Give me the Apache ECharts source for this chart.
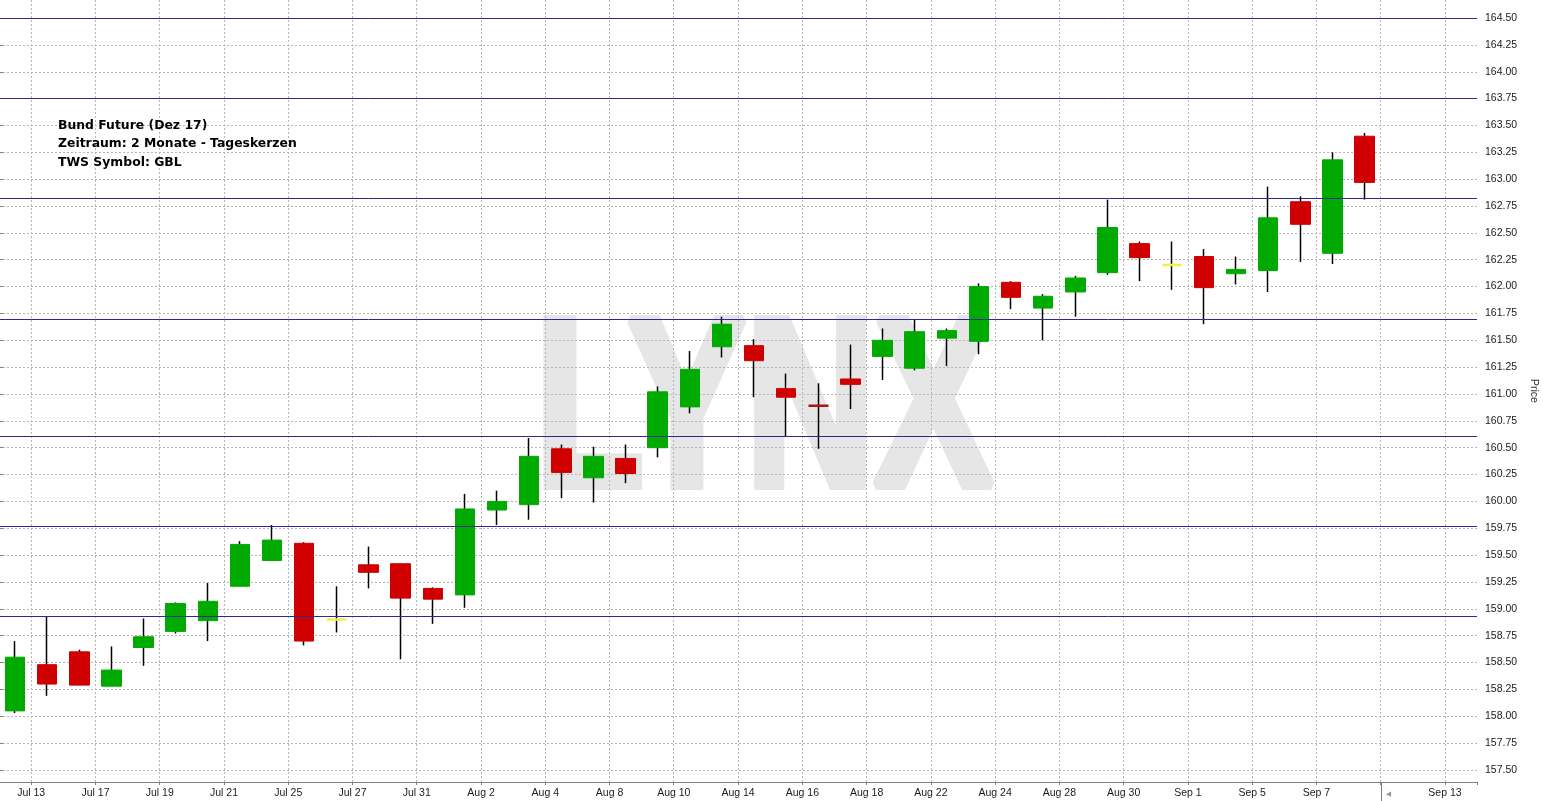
<!DOCTYPE html>
<html>
<head>
<meta charset="utf-8">
<script src="https://cdn.jsdelivr.net/npm/echarts@6/dist/echarts.min.js"></script>
<style>
  html, body { margin: 0; padding: 0; background: #ffffff; }
  #chart { width: 1543px; height: 801px; }
</style>
</head>
<body>
<div id="chart"></div>
<script>
// ---- data ----
const dates = ['Jul 12','Jul 13','Jul 14','Jul 17','Jul 18','Jul 19','Jul 20','Jul 21','Jul 24','Jul 25',
  'Jul 26','Jul 27','Jul 28','Jul 31','Aug 1','Aug 2','Aug 3','Aug 4','Aug 7','Aug 8',
  'Aug 9','Aug 10','Aug 11','Aug 14','Aug 15','Aug 16','Aug 17','Aug 18','Aug 21','Aug 22',
  'Aug 23','Aug 24','Aug 25','Aug 28','Aug 29','Aug 30','Aug 31','Sep 1','Sep 4','Sep 5',
  'Sep 6','Sep 7','Sep 8','Sep 11','Sep 12','Sep 13'];
const openP  = [158.05,158.48,158.60,158.28,158.64,158.79,158.89,159.21,159.45,159.61,
  158.90,159.41,159.42,159.19,159.13,159.92,159.97,160.49,160.22,160.40,
  160.50,160.88,161.44,161.45,161.05,160.89,161.14,161.35,161.24,161.52,
  161.49,162.04,161.80,161.95,162.13,162.40,162.20,162.28,162.12,162.15,
  162.79,162.31,163.40];
const closeP = [158.55,158.30,158.29,158.43,158.74,159.05,159.07,159.60,159.64,158.70,
  158.90,159.34,159.10,159.09,159.93,160.00,160.42,160.27,160.42,160.26,
  161.02,161.23,161.65,161.31,160.97,160.89,161.09,161.50,161.58,161.59,
  162.00,161.90,161.91,162.08,162.55,162.27,162.20,161.99,162.16,162.64,
  162.58,163.18,162.97];
const lowP   = [158.03,158.19,158.29,158.28,158.47,158.77,158.70,159.21,159.45,158.66,
  158.78,159.19,158.53,158.86,159.01,159.78,159.83,160.03,159.99,160.17,
  160.41,160.82,161.34,160.97,160.60,160.49,160.86,161.13,161.22,161.26,
  161.37,161.79,161.50,161.72,162.11,162.05,161.97,161.65,162.02,161.95,
  162.23,162.21,162.81];
const highP  = [158.70,158.93,158.62,158.65,158.91,159.06,159.24,159.63,159.78,159.62,
  159.21,159.58,159.42,159.20,160.07,160.10,160.59,160.53,160.51,160.53,
  161.07,161.40,161.72,161.51,161.19,161.10,161.46,161.61,161.69,161.61,
  162.03,162.05,161.93,162.10,162.81,162.42,162.42,162.35,162.28,162.93,
  162.84,163.25,163.43];
const levels = [164.50, 163.75, 162.82, 161.70, 160.61, 159.77, 158.93];
const yTicks = [157.50,157.75,158.00,158.25,158.50,158.75,159.00,159.25,159.50,159.75,
  160.00,160.25,160.50,160.75,161.00,161.25,161.50,161.75,162.00,162.25,
  162.50,162.75,163.00,163.25,163.50,163.75,164.00,164.25,164.50];
const xGridDates = ['Jul 13','Jul 17','Jul 19','Jul 21','Jul 25','Jul 27','Jul 31','Aug 2','Aug 4','Aug 8',
  'Aug 10','Aug 14','Aug 16','Aug 18','Aug 22','Aug 24','Aug 28','Aug 30','Sep 1','Sep 5',
  'Sep 7','Sep 11','Sep 13'];
const yMin = 157.388, yMax = 164.668;
const todayMarker = 'Sep 11';
const titleLines = ['Bund Future (Dez 17)', 'Zeitraum: 2 Monate - Tageskerzen', 'TWS Symbol: GBL'];

// ---- styles ----
const UP = '#00aa00', DOWN = '#d00000';
const dojiColors = { 'Jul 26': '#f4f04a', 'Aug 16': '#a81414', 'Aug 31': '#f4f04a' };
const GRID_LINE = { color: '#b6b6b6', type: [2, 2], width: 1 };
const AXIS_COLOR = '#808080';
const FONT = '"Liberation Sans", Arial, sans-serif';

const wickData = openP.map((o, i) => [o, closeP[i], lowP[i], highP[i]]);
const bodyData = openP.map((o, i) => {
  const c = closeP[i];
  const item = { value: [o, c, Math.min(o, c), Math.max(o, c)] };
  const dc = dojiColors[dates[i]];
  if (dc) {
    item.itemStyle = { color: dc, color0: dc, borderColor: dc, borderColor0: dc, borderColorDoji: dc, borderWidth: 2.5 };
  }
  return item;
});
const xGridIdx = xGridDates.map(d => dates.indexOf(d));

const chart = echarts.init(document.getElementById('chart'), null, { renderer: 'canvas' });
const option = {
  animation: false,
  backgroundColor: '#ffffff',
  title: {
    text: titleLines.join('\n'),
    left: 58, top: 116, padding: 0,
    textStyle: { fontFamily: '"DejaVu Sans", sans-serif', fontWeight: 'bold', fontSize: 12.4, lineHeight: 18.7, color: '#000' }
  },
  grid: { left: -1, right: 66, top: 0, bottom: 19, containLabel: false, outerBoundsMode: 'none' },
  xAxis: [
    {
      type: 'category', data: dates, boundaryGap: true,
      axisLine: { show: true, lineStyle: { color: AXIS_COLOR, width: 1 } },
      axisTick: { show: true, length: 3, customValues: xGridIdx, lineStyle: { color: AXIS_COLOR } },
      axisLabel: {
        interval: (i, v) => i % 2 === 1 && v !== todayMarker,
        padding: [0, 32, 0, 0], color: '#1a1a1a', fontSize: 10.5, fontFamily: FONT, margin: 6
      },
      splitLine: { show: false }
    },
    {
      // day-boundary coordinate axis (0 = left edge of the first day), only used for the vertical grid
      type: 'value', min: 0, max: dates.length, position: 'top',
      axisLine: { show: false },
      axisTick: { show: true, length: 0, customValues: xGridIdx, lineStyle: { color: 'rgba(0,0,0,0)' } },
      axisLabel: { show: true, customValues: xGridIdx, formatter: () => '' },
      splitLine: { show: true, lineStyle: GRID_LINE }
    }
  ],
  yAxis: {
    type: 'value', position: 'right', min: yMin, max: yMax,
    axisLine: { show: true, lineStyle: { color: AXIS_COLOR, width: 1 } },
    axisTick: { show: true, length: 4, customValues: yTicks, lineStyle: { color: AXIS_COLOR } },
    axisLabel: { customValues: yTicks, formatter: (v) => v.toFixed(2), color: '#1a1a1a', fontSize: 10.5, fontFamily: FONT, margin: 8 },
    splitLine: { show: true, lineStyle: GRID_LINE },
    name: 'Price', nameLocation: 'middle', nameRotate: -90, nameGap: 48,
    nameTextStyle: { color: '#333', fontSize: 10.5, fontFamily: FONT }
  },
  graphic: [{
    id: 'wm', type: 'text', x: 764, y: 419, scaleX: 0.74, z: -10, silent: true,
    style: { text: 'LYNX', font: 'bold 240px "Liberation Sans", Arial, sans-serif', fill: '#e6e6e6',
      stroke: '#e6e6e6', lineWidth: 10, textAlign: 'center', textVerticalAlign: 'middle' }
  }],
  series: [
    {
      type: 'candlestick', name: 'range', data: wickData, barWidth: 1, silent: true, z: 2,
      itemStyle: { color: '#000', color0: '#000', borderColor: '#000', borderColor0: '#000', borderColorDoji: '#000', borderWidth: 1.5 }
    },
    {
      type: 'candlestick', name: 'GBL', data: bodyData, barWidth: 20, silent: true, z: 3,
      itemStyle: { color: UP, color0: DOWN, borderColor: UP, borderColor0: DOWN, borderWidth: 1 },
      markLine: {
        silent: true, symbol: ['none', 'none'], label: { show: false },
        lineStyle: { color: '#2a2a90', width: 1, type: 'solid' },
        emphasis: { disabled: true },
        data: levels.map(v => ({ yAxis: v }))
      }
    }
  ]
};
chart.setOption(option);

// today separator below the axis
const xa = chart.convertToPixel({ xAxisIndex: 0 }, todayMarker);
const xb = chart.convertToPixel({ xAxisIndex: 0 }, dates[dates.indexOf(todayMarker) + 1]);
const xSep = Math.round(xa - (xb - xa) / 2) + 0.5;
const yBottom = chart.convertToPixel({ yAxisIndex: 0 }, yMin);
chart.setOption({
  graphic: [
    { id: 'sep', type: 'line', silent: true, shape: { x1: xSep, y1: yBottom, x2: xSep, y2: 801 }, style: { stroke: AXIS_COLOR, lineWidth: 1 } },
    { id: 'arrow', type: 'text', silent: true, x: xSep + 7, y: yBottom + 12,
      style: { text: '\u25C0', font: '7px "DejaVu Sans", sans-serif', fill: '#999', textAlign: 'center', textVerticalAlign: 'middle' } }
  ]
});
</script>
</body>
</html>
